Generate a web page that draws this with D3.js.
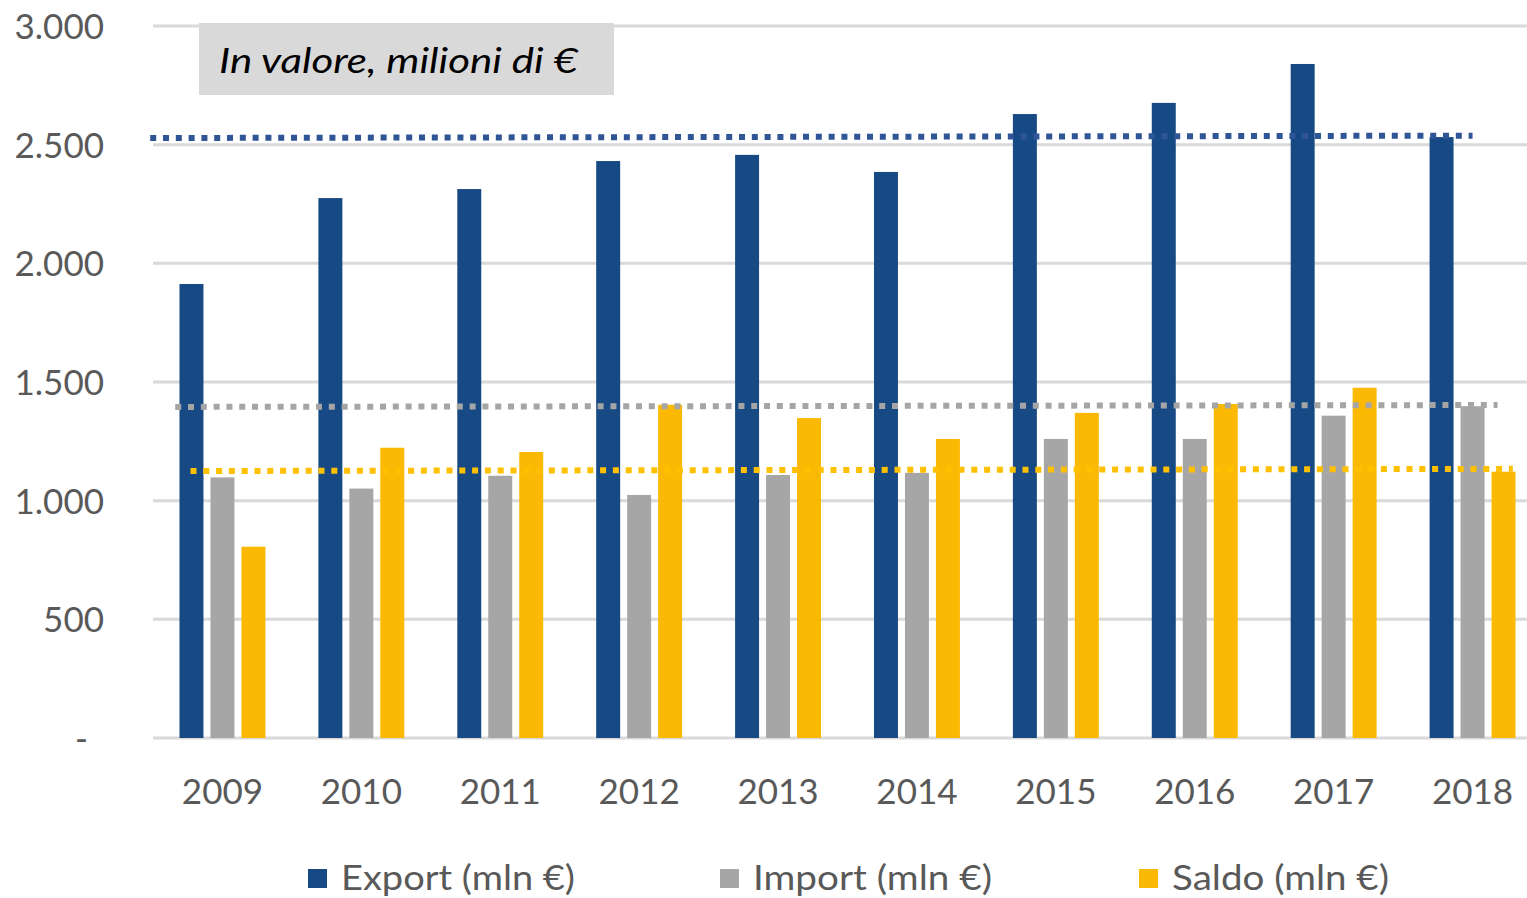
<!DOCTYPE html>
<html>
<head>
<meta charset="utf-8">
<script src="https://cdn.jsdelivr.net/npm/d3@7"></script>
<style>
  body { margin: 0; background: #ffffff; }
  svg { display: block; font-family: Lato, "Open Sans", sans-serif; }
</style>
</head>
<body>
<div id="grafico"></div>
<script>
// dati
var anni = ["2009", "2010", "2011", "2012", "2013", "2014", "2015", "2016", "2017", "2018"];
var serie = ["Export (mln €)", "Import (mln €)", "Saldo (mln €)"];
var export_val = [1913, 2275, 2313, 2431, 2457, 2385, 2629, 2676, 2840, 2532];
var import_val = [1098, 1051, 1105, 1024, 1108, 1117, 1260, 1260, 1358, 1398];
var saldo_val  = [806, 1223, 1205, 1404, 1348, 1260, 1370, 1407, 1476, 1122];
var y_ticks = [0, 500, 1000, 1500, 2000, 2500, 3000];

// linee tratteggiate (posizione in unità di categoria, valore iniziale e finale)
var linea_da_pos = [-0.52, -0.34, -0.23];
var linea_a_pos  = [9.0, 9.18, 9.29];
var linea_da_val = [2528, 1395, 1125];
var linea_a_val  = [2538, 1403, 1134];

var colori = ["#174a85", "#a6a6a6", "#fbb904"];
var colori_linee = ["#2f5597", "#a5a5a5", "#ffc000"];

var width = 1527, height = 898;
var m_left = 153, m_right = 1542, m_top = 26, m_bottom = 738;

var svg = d3.select("#grafico")
    .append("svg")
    .attr("width", width)
    .attr("height", height);

var y = d3.scaleLinear()
    .domain([0, 3000])
    .range([m_bottom, m_top]);

var x0 = d3.scaleBand()
    .domain(anni)
    .range([m_left, m_right]);

var x1 = d3.scaleBand()
    .domain(serie)
    .range([0, x0.step()])
    .paddingInner(0.226)
    .paddingOuter(0.855);

var xi = d3.scaleLinear()
    .domain([0, anni.length - 1])
    .range([x0(anni[0]) + x0.step() / 2, x0(anni[anni.length - 1]) + x0.step() / 2]);

// griglia
svg.append("g")
    .selectAll("line")
    .data(y_ticks)
    .enter()
    .append("line")
    .attr("x1", m_left)
    .attr("x2", width)
    .attr("y1", function(d){ return y(d); })
    .attr("y2", function(d){ return y(d); })
    .style("stroke", "#d9d9d9")
    .style("stroke-width", 3);

// asse y
var yAxis = d3.axisLeft(y)
    .tickValues(y_ticks)
    .tickSize(0)
    .tickPadding(0)
    .tickFormat(function(d){
        return d === 0 ? "-" : d3.format(",")(d).replace(/,/g, ".");
    });

var gy = svg.append("g")
    .attr("transform", "translate(104,0)")
    .call(yAxis);
gy.select(".domain").remove();
gy.selectAll("text")
    .style("font-size", "35px")
    .style("font-family", "Lato, sans-serif")
    .style("fill", "#595959")
    .attr("dy", "0.36em")
    .attr("dx", function(d){ return d === 0 ? -16 : 0; });

// asse x
var gx = svg.append("g")
    .attr("transform", "translate(0," + m_bottom + ")")
    .call(d3.axisBottom(x0).tickSize(0).tickPadding(0));
gx.select(".domain").remove();
gx.selectAll("text")
    .attr("y", 66)
    .attr("dy", 0)
    .style("font-size", "35px")
    .style("font-family", "Lato, sans-serif")
    .style("fill", "#595959");

// riquadro di testo
svg.append("rect")
    .attr("x", 199)
    .attr("y", 23)
    .attr("width", 415)
    .attr("height", 72)
    .style("fill", "#d9d9d9");

svg.append("text")
    .attr("x", 219)
    .attr("y", 73)
    .attr("textLength", 359)
    .attr("lengthAdjust", "spacingAndGlyphs")
    .style("font-size", "35px")
    .style("font-style", "italic")
    .style("fill", "#000000")
    .text("In valore, milioni di €");

// barre
var valori = [export_val, import_val, saldo_val];

var gruppi = svg.append("g")
    .selectAll("g")
    .data(anni)
    .enter()
    .append("g")
    .attr("transform", function(d){ return "translate(" + x0(d) + ",0)"; });

gruppi.selectAll("rect")
    .data(function(d, i){
        return serie.map(function(s, j){ return {serie: s, valore: valori[j][i], col: colori[j]}; });
    })
    .enter()
    .append("rect")
    .attr("x", function(d){ return x1(d.serie); })
    .attr("width", x1.bandwidth())
    .attr("y", function(d){ return y(d.valore); })
    .attr("height", function(d){ return m_bottom - y(d.valore); })
    .style("fill", function(d){ return d.col; });

// linee tratteggiate
svg.append("g")
    .selectAll("line")
    .data(serie)
    .enter()
    .append("line")
    .attr("x1", function(d, i){ return xi(linea_da_pos[i]); })
    .attr("x2", function(d, i){ return xi(linea_a_pos[i]); })
    .attr("y1", function(d, i){ return y(linea_da_val[i]); })
    .attr("y2", function(d, i){ return y(linea_a_val[i]); })
    .style("stroke", function(d, i){ return colori_linee[i]; })
    .style("stroke-width", 6)
    .style("stroke-dasharray", "6,6.8");

// legenda
var leg_x = [308, 720, 1139];
var leg_w = [234, 239, 217];

var legenda = svg.append("g")
    .selectAll("g")
    .data(serie)
    .enter()
    .append("g")
    .attr("transform", function(d, i){ return "translate(" + leg_x[i] + ",869)"; });

legenda.append("rect")
    .attr("width", 19)
    .attr("height", 19)
    .style("fill", function(d, i){ return colori[i]; });

legenda.append("text")
    .attr("x", 33)
    .attr("y", 21)
    .attr("textLength", function(d, i){ return leg_w[i]; })
    .attr("lengthAdjust", "spacingAndGlyphs")
    .style("font-size", "34px")
    .style("fill", "#595959")
    .text(function(d){ return d; });
</script>
</body>
</html>
